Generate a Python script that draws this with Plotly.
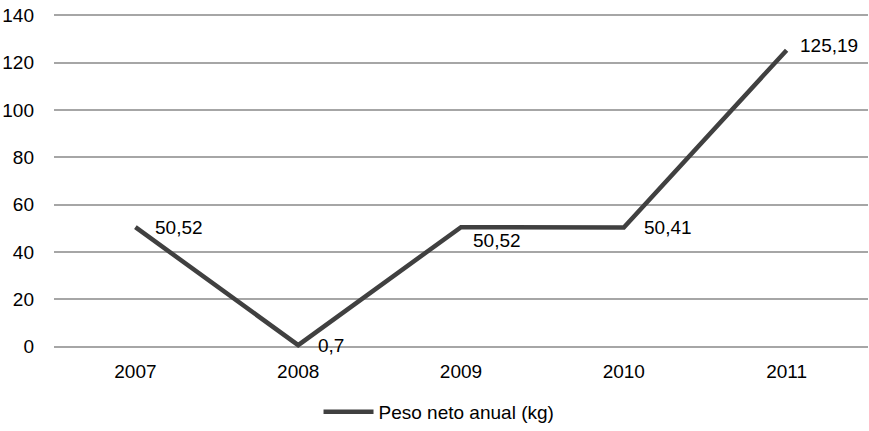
import plotly.graph_objects as go

years = ["2007", "2008", "2009", "2010", "2011"]
peso = [50.52, 0.7, 50.52, 50.41, 125.19]
series_name = "Peso neto anual (kg)"
y_ticks = [0, 20, 40, 60, 80, 100, 120, 140]

# label offsets (px) per point, right of the line vertex
label_shift = [(18, 0), (18, 0), (10, -13), (18, 0), (11, 5)]

FONT = "Liberation Sans, Arial"

def fmt(v):
    s = ("%.2f" % v).rstrip("0").rstrip(".")
    return s.replace(".", ",")

fig = go.Figure()
fig.add_trace(go.Scatter(
    x=years, y=peso, mode="lines", name=series_name,
    line=dict(color="#404040", width=4.5),
))

# category axis: annotations are positioned by category index
for i, (v, (dx, dy)) in enumerate(zip(peso, label_shift)):
    fig.add_annotation(
        x=i, y=v, text=fmt(v), showarrow=False,
        xanchor="left", yanchor="middle", xshift=dx, yshift=dy,
        font=dict(family=FONT, size=19, color="#000000"),
    )

fig.update_layout(
    width=869, height=431,
    margin=dict(l=54, r=1, t=14, b=82),
    paper_bgcolor="white", plot_bgcolor="white",
    font=dict(family=FONT, size=19, color="#000000"),
    showlegend=True,
    legend=dict(orientation="h", x=0.473, xanchor="center", y=-0.132, yanchor="top",
                bgcolor="rgba(0,0,0,0)", font=dict(size=19), itemwidth=50),
    xaxis=dict(type="category", range=[-0.5, 4.5], showgrid=False, showline=False,
               zeroline=False, ticks="", ticklabelstandoff=10),
    yaxis=dict(range=[-0.5, 140.5], tickvals=y_ticks, showgrid=True,
               gridcolor="#a6a6a6", gridwidth=1.5, zeroline=False,
               showline=False, ticks="", ticklabelstandoff=19),
)

fig.write_html("out.html")
